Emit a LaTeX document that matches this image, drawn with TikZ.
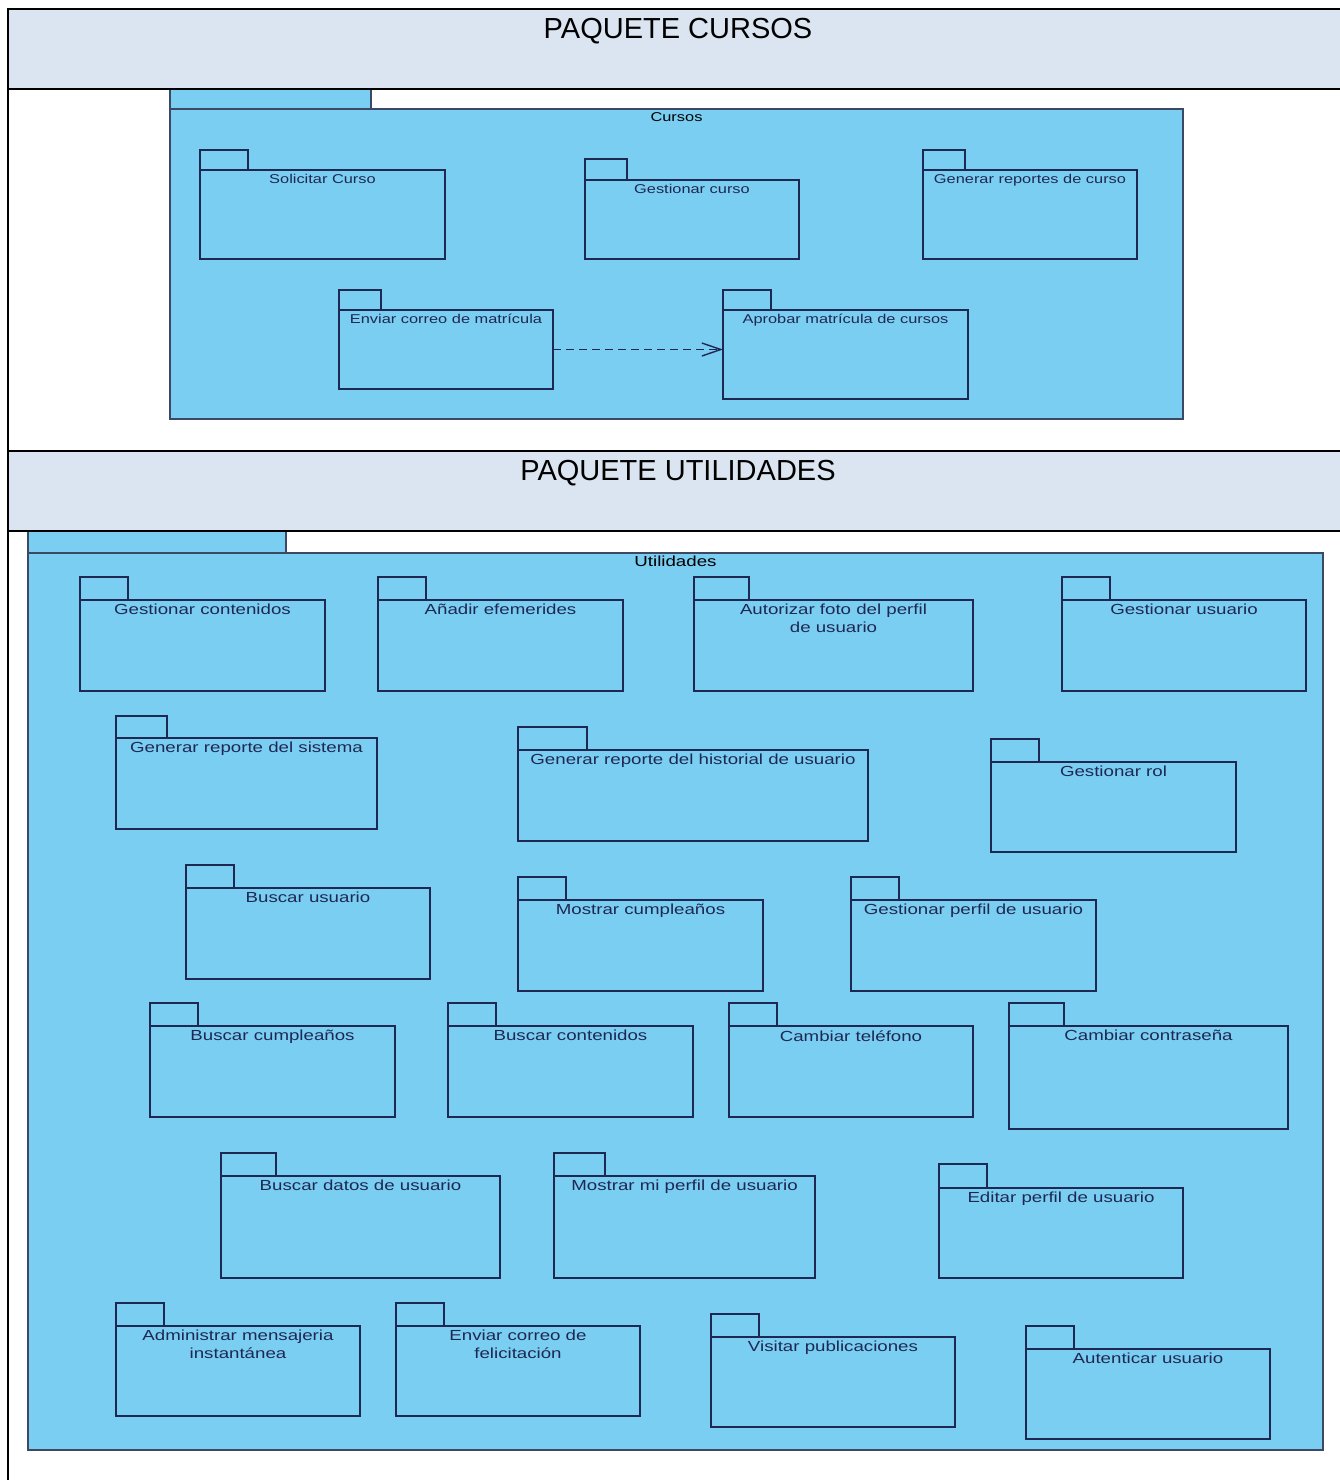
\documentclass[tikz,border=0pt]{standalone}
\usepackage{fontspec}
\setmainfont{Liberation Sans}
\newfontfamily\pkgfont[FakeStretch=1.28]{Liberation Sans}
\usetikzlibrary{arrows.meta}
\definecolor{cielo}{RGB}{122, 206, 242}
\definecolor{cabecera}{RGB}{219, 229, 241}
\definecolor{marino}{RGB}{31, 40, 82}
\definecolor{pizarra}{RGB}{60, 72, 100}

\tikzset{
  marco/.style={draw=black, line width=1.4pt},
  titulo/.style={font=\fontsize{14.5}{17}\selectfont, anchor=base, inner sep=0},
  contenedor/.style={draw=pizarra, fill=cielo, line width=0.7pt, inner sep=0, outer sep=0},
  paquete/.style={draw=marino, fill=cielo, line width=0.75pt, inner sep=0, outer sep=0},
  rotulo/.style={font=\pkgfont\fontsize{7.3}{8.6}\selectfont, text=marino, align=center, anchor=north, inner sep=0},
  rotulocurso/.style={rotulo, font=\pkgfont\fontsize{6.4}{7.6}\selectfont},
  dependencia/.style={draw=marino, line width=0.7pt, dash pattern=on 4pt off 2.5pt, -{Straight Barb[length=9.5pt,width=6.5pt]}}
}

% #1 style of the label, #2 name, #3 left, #4 tab top, #5 tab right, #6 body top, #7 right, #8 bottom, #9 text
\newcommand{\paquete}[9][rotulo]{%
  \filldraw[paquete] (#3,#4) rectangle (#5,#6);
  \node[paquete, minimum width={(#7-#3)*0.5pt}, minimum height={(#8-#6)*0.5pt}, anchor=north west] (#2) at (#3,#6) {};
  \node[#1] (#2-rotulo) at ([yshift=-2pt]#2.north) {#9};
}

\begin{document}
\begin{tikzpicture}[x=0.5pt, y=-0.5pt]
            \useasboundingbox (0,0) rectangle (1340,1480);
            % cabeceras
            \fill[cabecera] (8,9) rectangle (1340,89);
            \fill[cabecera] (8,451) rectangle (1340,531);
            \node[titulo] (titulo-cursos) at (678,38) {PAQUETE CURSOS};
            \node[titulo] (titulo-utilidades) at (678,480) {PAQUETE UTILIDADES};

            % paquete Cursos
            \filldraw[contenedor] (170,89) rectangle (371,109);
            \node[contenedor, minimum width={(1183-170)*0.5pt}, minimum height={(419-109)*0.5pt}, anchor=north west] (cursos) at (170,109) {};
            \node[rotulocurso, text=black] (cursos-rotulo) at ([yshift=-1.5pt]cursos.north) {Cursos};
            \paquete[rotulocurso]{solicitar}{200}{150}{248}{170}{445}{259}{Solicitar Curso}
            \paquete[rotulocurso]{gestionarcurso}{585}{159}{627}{180}{799}{259}{Gestionar curso}
            \paquete[rotulocurso]{reportescurso}{923}{150}{965}{170}{1137}{259}{Generar reportes de curso}
            \paquete[rotulocurso]{enviarcorreo}{339}{290}{381}{310}{553}{389}{Enviar correo de matrícula}
            \paquete[rotulocurso]{aprobar}{723}{290}{771}{310}{968}{399}{Aprobar matrícula de cursos}
            \draw[dependencia] (enviarcorreo.east) -- (enviarcorreo.east -| aprobar.west);

            % paquete Utilidades
            \filldraw[contenedor] (28,531) rectangle (286,553);
            \node[contenedor, minimum width={(1323-28)*0.5pt}, minimum height={(1450-553)*0.5pt}, anchor=north west] (utilidades) at (28,553) {};
            \node[rotulo, text=black] (utilidades-rotulo) at ([yshift=-1.5pt]utilidades.north) {Utilidades};
            \paquete{contenidos}{80}{577}{128}{600}{325}{691}{Gestionar contenidos}
            \paquete{efemerides}{378}{577}{426}{600}{623}{691}{Añadir efemerides}
            \paquete{foto}{694}{577}{749}{600}{973}{691}{Autorizar foto del perfil\\de usuario}
            \paquete{usuario}{1062}{577}{1110}{600}{1306}{691}{Gestionar usuario}
            \paquete{reportesistema}{116}{716}{167}{738}{377}{829}{Generar reporte del sistema}
            \paquete{historial}{518}{727}{587}{750}{868}{841}{Generar reporte del historial de usuario}
            \paquete{rol}{991}{739}{1039}{762}{1236}{852}{Gestionar rol}
            \paquete{buscarusuario}{186}{865}{234}{888}{430}{979}{Buscar usuario}
            \paquete{cumple}{518}{877}{566}{900}{763}{991}{Mostrar cumpleaños}
            \paquete{perfil}{851}{877}{899}{900}{1096}{991}{Gestionar perfil de usuario}
            \paquete{buscarcumple}{150}{1003}{198}{1026}{395}{1117}{Buscar cumpleaños}
            \paquete{buscarcontenidos}{448}{1003}{496}{1026}{693}{1117}{Buscar contenidos}
            \paquete{telefono}{729}{1003}{777}{1026}{973}{1117}{Cambiar teléfono}
            \paquete{contrasena}{1009}{1003}{1064}{1026}{1288}{1129}{Cambiar contraseña}
            \paquete{datos}{221}{1153}{276}{1176}{500}{1278}{Buscar datos de usuario}
            \paquete{miperfil}{554}{1153}{605}{1176}{815}{1278}{Mostrar mi perfil de usuario}
            \paquete{editar}{939}{1164}{987}{1188}{1183}{1278}{Editar perfil de usuario}
            \paquete{mensajeria}{116}{1303}{164}{1326}{360}{1416}{Administrar mensajeria\\instantánea}
            \paquete{felicitacion}{396}{1303}{444}{1326}{640}{1416}{Enviar correo de\\felicitación}
            \paquete{publicaciones}{711}{1314}{759}{1337}{955}{1427}{Visitar publicaciones}
            \paquete{autenticar}{1026}{1326}{1074}{1349}{1270}{1439}{Autenticar usuario}

            % marco de la tabla
            \draw[marco] (1340,9) -- (8,9) -- (8,1480);
            \draw[marco] (8,89) -- (1340,89);
            \draw[marco] (8,451) -- (1340,451);
            \draw[marco] (8,531) -- (1340,531);
\end{tikzpicture}
\end{document}
